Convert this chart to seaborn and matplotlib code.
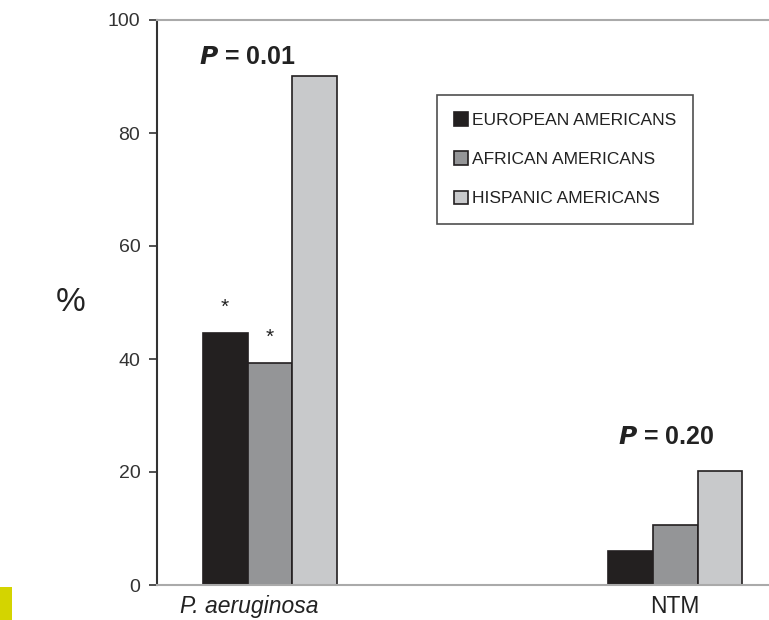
import pandas as pd
import seaborn as sns
import matplotlib.pyplot as plt
from matplotlib.patches import Rectangle
from matplotlib.transforms import ScaledTranslation

organisms = ['P. aeruginosa', 'NTM']
groups = ['EUROPEAN AMERICANS', 'AFRICAN AMERICANS', 'HISPANIC AMERICANS']
european = [44.6, 6.0]
african = [39.3, 10.6]
hispanic = [90.0, 20.2]
p_values = ['0.01', '0.20']
colors = ['#231f20', '#939598', '#c8c9cb']

rows = []
for i, org in enumerate(organisms):
    for grp, vals in zip(groups, [european, african, hispanic]):
        rows.append({'organism': org, 'group': grp, 'pct': vals[i]})
df = pd.DataFrame(rows)

sns.set_style('white')
plt.rcParams['font.family'] = ['Liberation Sans', 'DejaVu Sans']

fig = plt.figure(figsize=(7.69, 6.2), dpi=100)
ax = fig.add_axes([157 / 769, 35 / 620, 1 - 157 / 769, 565 / 620])

sns.barplot(data=df, x='organism', y='pct', hue='group', order=organisms,
            hue_order=groups, palette=colors, width=0.333, edgecolor='#231f20',
            linewidth=1.2, ax=ax)

ax.set_xlim(-0.279, 1.232)
ax.set_ylim(0, 100)
ax.set_yticks([0, 20, 40, 60, 80, 100])
ax.tick_params(axis='y', left=True, length=6, width=1.2, color='#333333',
               labelsize=14, labelcolor='#333333', pad=6)
ax.tick_params(axis='x', bottom=False, labelsize=16.5, labelcolor='#222222', pad=4)
ax.set_xticks([0, 1])
ax.set_xticklabels(organisms)
lbl = ax.get_xticklabels()[0]
lbl.set_style('italic')
lbl.set_transform(lbl.get_transform() + ScaledTranslation(-0.21, 0, fig.dpi_scale_trans))
ax.set_xlabel('')
ax.set_ylabel('%', rotation=0, fontsize=24, color='#222222', labelpad=27, va='center')

ax.spines['left'].set_color('#333333')
ax.spines['left'].set_linewidth(1.5)
ax.spines['top'].set_color('#aaaaaa')
ax.spines['top'].set_linewidth(1.5)
ax.spines['bottom'].set_color('#aaaaaa')
ax.spines['bottom'].set_linewidth(1.5)
ax.spines['right'].set_visible(False)

# significance markers
ax.text(-0.111, european[0] + 3.5, '*', ha='center', fontsize=15, color='#222222')
ax.text(0.0, african[0] + 3.5, '*', ha='center', fontsize=15, color='#222222')

# p-values
ax.text(-0.175, 93.5, r'$\mathbfit{P}$ = ' + p_values[0], fontsize=18,
        fontweight='bold', color='#222222', va='center')
ax.text(0.86, 26.2, r'$\mathbfit{P}$ = ' + p_values[1], fontsize=18,
        fontweight='bold', color='#222222', va='center')

leg = ax.legend(loc='upper left', bbox_to_anchor=(437 / 769, 1 - 95 / 620),
                bbox_transform=fig.transFigure, frameon=True, fancybox=False,
                fontsize=12.5, handlelength=0.8, handleheight=0.8, handletextpad=0.2,
                labelspacing=1.35, borderpad=1.0, borderaxespad=0, title=None)
leg.get_frame().set_edgecolor('#222222')
leg.get_frame().set_linewidth(1.2)
for t in leg.get_texts():
    t.set_color('#222222')

# yellow mark at the lower left corner
fig.patches.append(Rectangle((0, 0), 12 / 769, 33 / 620, transform=fig.transFigure,
                             facecolor='#d4d400', edgecolor='none'))

fig.savefig('out.png', dpi=100)
